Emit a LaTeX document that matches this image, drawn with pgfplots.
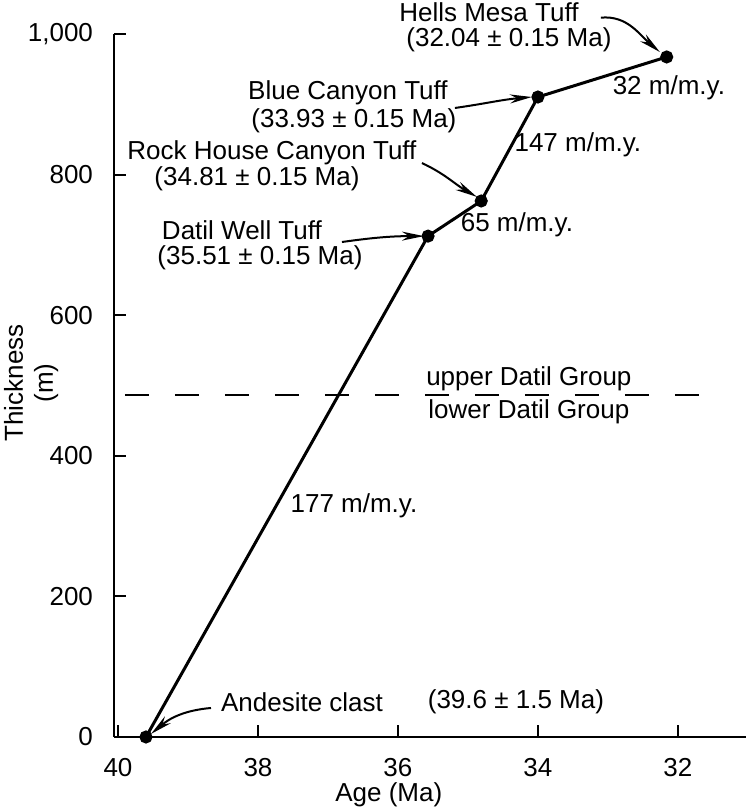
\documentclass[border=0pt]{standalone}
\usepackage{fontspec}
\setmainfont{Liberation Sans}
\usepackage{pgfplots}
\pgfplotsset{compat=1.18}
\usetikzlibrary{arrows.meta}
\begin{document}
\fontsize{13}{15}\selectfont
\begin{tikzpicture}[lbl/.style={inner sep=0.5pt}]
\begin{axis}[
  at={(57pt,35.5pt)}, anchor=south west,
  scale only axis, width=315.9pt, height=351.25pt,
  x dir=reverse, xmin=31.03, xmax=40.057, ymin=0, ymax=1000,
  axis lines*=left, axis line style={line width=1pt},
  tick align=inside, major tick length=6pt, tick style={line width=1pt, black},
  xtick={40,38,36,34,32}, ytick={0,200,400,600,800,1000},
  /pgf/number format/assume math mode=true,
  /pgf/number format/1000 sep={,},
  xticklabel style={yshift=-6pt},
  yticklabel style={xshift=-6pt},
  xlabel={Age (Ma)}, ylabel={Thickness\\(m)},
  xlabel style={at={(axis description cs:0.435,-0.0825)}, anchor=center, inner sep=0.5pt},
  ylabel style={at={(axis description cs:-0.131,0.504)}, anchor=center, align=center},
  clip=false,
]
\addplot[line width=1.5pt, mark=*, mark size=2.5pt, mark options={fill=black}]
  coordinates {(39.6,0) (35.57,713) (34.81,763) (34.0,911) (32.16,968)};
\addplot[line width=1pt, dash pattern=on 12pt off 13pt, mark=none]
  coordinates {(39.9,486.8) (31.41,486.8)};

\node[lbl] at (axis cs:34.70,1032) {Hells Mesa Tuff};
\node[lbl] at (axis cs:34.414,992.2) {(32.04 ± 0.15 Ma)};
\node[lbl] at (axis cs:36.714,917.5) {Blue Canyon Tuff};
\node[lbl] at (axis cs:36.629,877.5) {(33.93 ± 0.15 Ma)};
\node[lbl] at (axis cs:37.8,831) {Rock House Canyon Tuff};
\node[lbl] at (axis cs:38.014,794.5) {(34.81 ± 0.15 Ma)};
\node[lbl] at (axis cs:38.229,721.7) {Datil Well Tuff};
\node[lbl] at (axis cs:37.971,681.9) {(35.51 ± 0.15 Ma)};
\node[lbl] at (axis cs:37.371,49.8) {Andesite clast};
\node[lbl] at (axis cs:34.314,49.8) {(39.6 ± 1.5 Ma)};
\node[lbl] at (axis cs:32.129,923.8) {32 m/m.y.};
\node[lbl] at (axis cs:33.429,842.7) {147 m/m.y.};
\node[lbl] at (axis cs:34.3,728.8) {65 m/m.y.};
\node[lbl] at (axis cs:36.629,328.8) {177 m/m.y.};
\node[lbl] at (axis cs:34.129,509.6) {upper Datil Group};
\node[lbl] at (axis cs:34.129,462.6) {lower Datil Group};

\draw[line width=1pt, -{Stealth[length=11pt,width=4.5pt]}] (axis cs:33.10,1024) to[out=5,in=140] (axis cs:32.257,975);
\draw[line width=1pt, -{Stealth[length=11pt,width=4.5pt]}] (axis cs:35.186,895.4) to[out=8,in=185] (axis cs:34.086,911);
\draw[line width=1pt, -{Stealth[length=11pt,width=4.5pt]}] (axis cs:35.657,817) to[out=-25,in=150] (axis cs:34.871,768.7);
\draw[line width=1pt, -{Stealth[length=11pt,width=4.5pt]}] (axis cs:36.8,704.6) to[out=8,in=180] (axis cs:35.629,713);
\draw[line width=1pt, -{Stealth[length=11pt,width=4.5pt]}] (axis cs:38.671,41.3) to[out=185,in=40] (axis cs:39.529,4.3);
\end{axis}
\pgfresetboundingbox
\useasboundingbox (0,0) rectangle (373pt,404pt);
\end{tikzpicture}
\end{document}
